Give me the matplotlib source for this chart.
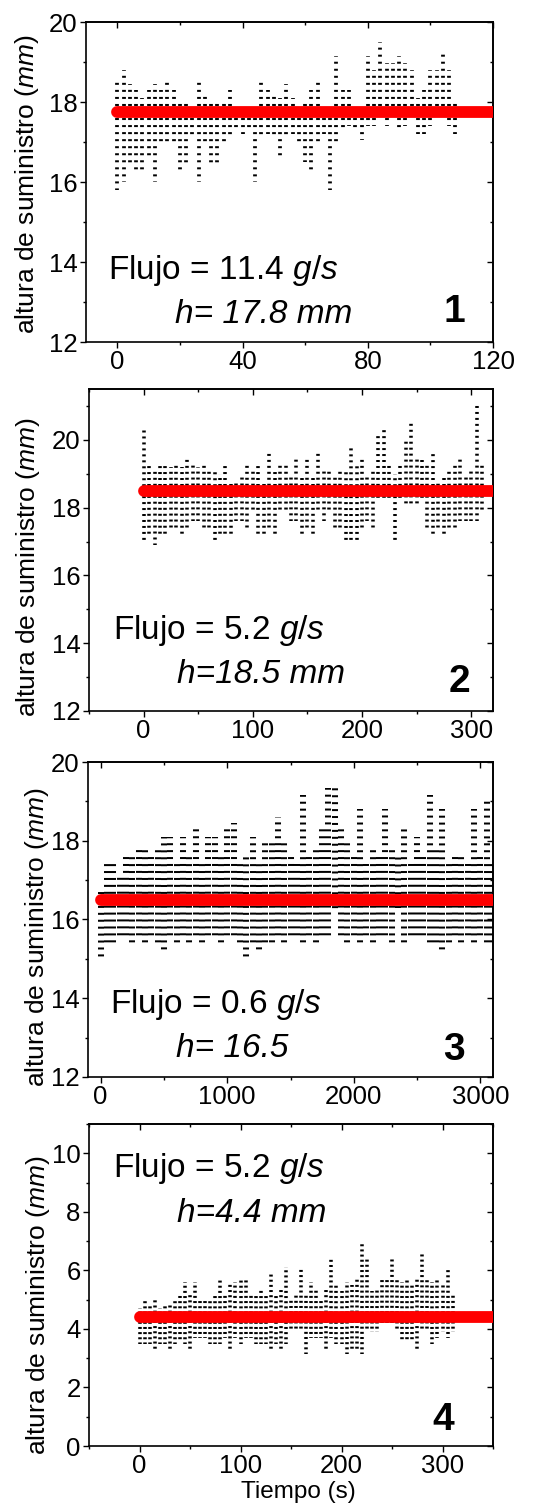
import matplotlib
matplotlib.use("Agg")
import matplotlib.pyplot as plt
from matplotlib.ticker import MultipleLocator

plt.rcParams['font.family'] = ['Liberation Sans', 'DejaVu Sans']
plt.rcParams['mathtext.fontset'] = 'custom'
plt.rcParams['mathtext.rm'] = 'Liberation Sans'
plt.rcParams['mathtext.it'] = 'Liberation Sans:italic'
plt.rcParams['lines.scale_dashes'] = False

# ==============================
# Data: per time column, lowest and highest level
# ==============================
# Panel 1: flujo 11.4 g/s
t1 = [0, 2, 4, 6, 8, 10, 12, 14, 16, 18, 20, 22, 24, 26, 28, 30, 32, 34, 36, 38,
      40, 42, 44, 46, 48, 50, 52, 54, 56, 58, 60, 62, 64, 66, 68, 70, 72, 74, 76, 78,
      80, 82, 84, 86, 88, 90, 92, 94, 96, 98, 100, 102, 104, 106, 108]
lo1 = [15.8, 16.0, 16.4, 16.2, 16.2, 16.6, 16.0, 16.9, 17.0, 16.9, 16.2, 16.4, 17.1, 16.0, 16.9,
       16.4, 16.4, 16.9, 17.1, 17.3, 17.2, 17.3, 16.0, 17.1, 17.2, 17.1, 16.6, 17.1, 17.2, 16.9,
       16.5, 16.2, 16.9, 17.2, 15.8, 17.0, 17.3, 17.4, 17.3, 17.05, 17.4, 17.4, 17.6, 17.4, 17.6,
       17.3, 17.4, 17.6, 17.2, 17.2, 17.4, 17.6, 17.6, 17.4, 17.2]
hi1 = [18.6, 18.8, 18.45, 18.3, 18.1, 18.3, 18.45, 18.3, 18.6, 18.3, 18.0, 18.0, 17.9, 18.6, 18.2,
       18.0, 18.0, 18.0, 18.3, 17.9, 17.9, 17.9, 17.9, 18.6, 18.3, 18.2, 18.1, 18.45, 18.1, 17.9,
       18.0, 18.3, 18.6, 17.9, 17.9, 19.15, 18.3, 18.3, 17.9, 17.9, 19.15, 18.8, 19.5, 18.98, 18.98,
       19.15, 18.98, 18.8, 18.1, 18.3, 18.8, 18.8, 19.3, 18.8, 18.0]

# Panel 2: flujo 5.2 g/s
t2 = [0, 5, 10, 15, 20, 25, 30, 35, 40, 45, 50, 55, 60, 65, 70, 75, 80, 85, 90, 95,
      100, 105, 110, 115, 120, 125, 130, 135, 140, 145, 150, 155, 160, 165, 170, 175, 180, 185, 190, 195,
      200, 205, 210, 215, 220, 225, 230, 235, 240, 245, 250, 255, 260, 265, 270, 275, 280, 285, 290, 295,
      300, 305, 310]
lo2 = [17.0, 17.2, 16.9, 17.2, 17.2, 17.4, 17.4, 17.2, 17.4, 17.6, 17.6, 17.4, 17.4, 17.0, 17.2,
       17.2, 17.2, 17.6, 17.6, 17.4, 17.9, 17.2, 17.2, 17.4, 17.2, 17.9, 17.9, 17.6, 17.6, 17.2,
       17.4, 17.2, 17.9, 17.6, 17.9, 17.4, 17.4, 17.0, 17.0, 17.0, 17.4, 17.6, 17.4, 18.2, 18.2,
       18.2, 17.0, 18.2, 18.1, 18.1, 18.1, 18.2, 17.4, 17.2, 17.4, 17.2, 17.4, 17.4, 17.6, 17.6,
       17.6, 17.6, 17.9]
hi2 = [20.35, 19.3, 19.1, 19.3, 19.3, 19.2, 19.3, 19.2, 19.5, 19.3, 19.2, 19.3, 19.1, 19.1, 19.0,
       19.3, 18.8, 18.8, 18.9, 19.3, 19.1, 19.3, 18.8, 19.65, 19.1, 19.3, 19.3, 18.9, 19.5, 18.9,
       19.5, 18.9, 19.65, 19.1, 19.1, 18.9, 19.1, 19.1, 19.85, 19.3, 19.5, 19.0, 19.1, 20.2, 20.35,
       19.3, 19.0, 19.3, 20.0, 20.55, 19.5, 19.5, 19.3, 19.65, 18.8, 18.9, 19.1, 19.3, 19.5, 18.9,
       19.1, 21.05, 19.3]

# Panel 3: flujo 0.6 g/s
t3 = [0, 50, 100, 150, 200, 250, 300, 350, 400, 450, 500, 550, 600, 650, 700, 750, 800, 850, 900, 950,
      1000, 1050, 1100, 1150, 1200, 1250, 1300, 1350, 1400, 1450, 1500, 1550, 1600, 1650, 1700, 1750,
      1800, 1850, 1900, 1950, 2000, 2050, 2100, 2150, 2200, 2250, 2300, 2350, 2400, 2450, 2500, 2550,
      2600, 2650, 2700, 2750, 2800, 2850, 2900, 2950, 3000, 3050, 3100]
lo3 = [14.95, 15.3, 15.3, 15.5, 15.5, 15.3, 15.5, 15.3, 15.5, 15.3, 15.15, 15.5, 15.3, 15.5, 15.3,
       15.5, 15.3, 15.5, 15.5, 15.3, 15.5, 15.5, 15.3, 14.95, 15.3, 15.15, 15.3, 15.3, 15.5, 15.3,
       15.5, 15.5, 15.3, 15.5, 15.3, 15.5, 15.5, 16.2, 15.5, 15.3, 15.5, 15.3, 15.5, 15.3, 15.5,
       15.5, 15.3, 16.3, 15.3, 15.5, 15.5, 15.5, 15.3, 15.3, 15.15, 15.3, 15.5, 15.3, 15.5, 15.3,
       15.5, 15.3, 15.3]
hi3 = [16.8, 17.4, 17.4, 17.1, 17.6, 17.6, 17.8, 17.8, 17.6, 17.8, 18.1, 18.1, 17.4, 18.1, 17.6,
       18.3, 17.4, 18.1, 18.1, 17.6, 18.3, 18.45, 17.4, 17.6, 18.1, 17.4, 18.0, 18.0, 18.6, 18.0,
       17.6, 17.4, 19.15, 17.6, 17.8, 18.3, 19.35, 19.35, 18.3, 18.0, 17.6, 18.8, 17.4, 17.8, 17.6,
       18.8, 17.8, 17.6, 18.3, 17.4, 18.1, 17.6, 19.15, 17.8, 18.8, 17.4, 17.6, 17.6, 17.4, 18.8,
       17.6, 19.0, 17.4]

# Panel 4: flujo 5.2 g/s, nivel bajo
t4 = [0, 5, 10, 15, 20, 25, 30, 35, 40, 45, 50, 55, 60, 65, 70, 75, 80, 85, 90, 95,
      100, 105, 110, 115, 120, 125, 130, 135, 140, 145, 150, 155, 160, 165, 170, 175, 180, 185, 190, 195,
      200, 205, 210, 215, 220, 225, 230, 235, 240, 245, 250, 255, 260, 265, 270, 275, 280, 285, 290, 295,
      300, 305, 310]
lo4 = [3.5, 3.5, 3.5, 3.3, 3.5, 3.5, 3.3, 3.5, 3.6, 3.5, 3.3, 3.7, 3.7, 3.7, 3.5,
       3.5, 3.5, 3.7, 3.3, 3.7, 3.5, 3.7, 3.7, 3.5, 3.5, 3.5, 3.3, 3.5, 3.3, 3.5,
       4.0, 4.0, 4.0, 3.15, 3.7, 3.7, 3.7, 3.3, 3.7, 3.5, 3.5, 3.15, 3.3, 3.3, 3.15,
       4.0, 3.9, 3.9, 4.2, 4.2, 4.2, 4.0, 3.6, 3.6, 3.6, 3.3, 4.0, 4.0, 3.5, 3.7,
       3.9, 3.7, 3.9]
hi4 = [4.7, 5.0, 4.85, 5.0, 4.7, 4.85, 4.85, 5.0, 5.2, 5.6, 5.2, 5.6, 5.0, 5.05, 5.0,
       5.2, 5.75, 5.2, 5.6, 5.6, 5.75, 5.75, 5.2, 5.2, 5.4, 5.2, 5.95, 5.2, 5.4, 6.1,
       5.0, 5.2, 6.1, 5.2, 5.6, 5.4, 5.0, 5.4, 6.45, 5.5, 5.3, 5.6, 5.5, 5.75, 6.9,
       6.45, 5.3, 5.4, 5.75, 5.75, 6.45, 5.75, 5.6, 5.75, 5.5, 5.75, 6.6, 5.75, 5.6, 5.75,
       5.5, 6.1, 5.2]

# mean level (red line) and its time span
h_mean = [17.75, 18.5, 16.5, 4.4]
red_t = [[0, 120], [0, 320], [0, 3100], [0, 350]]

flujo_txt = ["Flujo = 11.4 $g/s$", "Flujo = 5.2 $g/s$", "Flujo = 0.6 $g/s$", "Flujo = 5.2 $g/s$"]
h_txt = ["h= 17.8 mm", "h=18.5 mm", "h= 16.5", "h=4.4 mm"]
num_txt = ["1", "2", "3", "4"]

LEVEL_STEP = 0.176  # height quantisation of the sensor (mm)

# ==============================
# Layout (pixels)
# ==============================
W, H = 556, 1508
fig = plt.figure(figsize=(W / 100, H / 100), dpi=100)

boxes = [(86, 22, 493, 342), (89, 389, 493, 711), (88, 762, 493, 1077), (89, 1124, 493, 1446)]
xlims = [(-10, 120), (-50, 320), (-100, 3100), (-50, 350)]
ylims = [(12, 20), (12, 21.5), (12, 20), (0, 11)]
xsteps = [(40, 20), (100, 50), (1000, 500), (100, 50)]
ysteps = [(2, 1), (2, 1), (2, 1), (2, 1)]
fill = [0.6, 0.65, 0.95, 0.7]   # how much of each column slot the dots cover
flujo_pos = [(0.054, 0.197), (0.059, 0.224), (0.054, 0.203), (0.059, 0.835)]
h_pos = [(0.219, 0.059), (0.218, 0.087), (0.217, 0.063), (0.218, 0.696)]
num_pos = [(0.931, 0.0625), (0.943, 0.059), (0.931, 0.054), (0.903, 0.05)]
ylab_pos = [(27, 184), (28, 567), (37, 937), (38, 1305)]

data = [(t1, lo1, hi1), (t2, lo2, hi2), (t3, lo3, hi3), (t4, lo4, hi4)]

for i in range(4):
    l, tp, r, b = boxes[i]
    ax = fig.add_axes([l / W, 1 - b / H, (r - l) / W, (b - tp) / H])
    ax.set_xlim(xlims[i])
    ax.set_ylim(ylims[i])
    t, lo, hi = data[i]

    # dotted columns: dots sit on the quantised levels
    ppx = (r - l) / (xlims[i][1] - xlims[i][0])
    ppy = (b - tp) / (ylims[i][1] - ylims[i][0])
    k = ppy * 0.72                     # points per mm
    period = LEVEL_STEP * k
    on = 2.0 * 0.72
    styles = [((on / 2 + ((v - h_mean[i]) % LEVEL_STEP) * k) % period, (on, period - on)) for v in lo]
    lw = (t[1] - t[0]) * ppx * fill[i] * 0.72
    ax.vlines(t, lo, hi, colors='black', linewidths=lw, linestyles=styles, zorder=2)

    # mean level
    ax.plot(red_t[i], [h_mean[i], h_mean[i]], color='#ff0000', lw=8.5,
            solid_capstyle='round', zorder=3)

    # ticks: out on left/bottom, mirrored in on top/right
    ax.xaxis.set_major_locator(MultipleLocator(xsteps[i][0]))
    ax.xaxis.set_minor_locator(MultipleLocator(xsteps[i][1]))
    ax.yaxis.set_major_locator(MultipleLocator(ysteps[i][0]))
    ax.yaxis.set_minor_locator(MultipleLocator(ysteps[i][1]))
    ax.tick_params(which='major', direction='out', length=4.5, width=1.0, labelsize=18.5, pad=1.5)
    ax.tick_params(which='minor', direction='out', length=2.5, width=1.0)
    for s in ax.spines.values():
        s.set_linewidth(1.2)

    sx = ax.secondary_xaxis('top')
    sx.xaxis.set_major_locator(MultipleLocator(xsteps[i][0]))
    sx.xaxis.set_minor_locator(MultipleLocator(xsteps[i][1]))
    sx.tick_params(which='major', direction='in', length=4.5, width=1.0, labeltop=False)
    sx.tick_params(which='minor', direction='in', length=2.5, width=1.0)
    sx.spines['top'].set_linewidth(1.2)
    sy = ax.secondary_yaxis('right')
    sy.yaxis.set_major_locator(MultipleLocator(ysteps[i][0]))
    sy.yaxis.set_minor_locator(MultipleLocator(ysteps[i][1]))
    sy.tick_params(which='major', direction='in', length=4.5, width=1.0, labelright=False)
    sy.tick_params(which='minor', direction='in', length=2.5, width=1.0)
    sy.spines['right'].set_linewidth(1.2)

    # annotations
    ax.text(flujo_pos[i][0], flujo_pos[i][1], flujo_txt[i], transform=ax.transAxes,
            fontsize=24, va='baseline', ha='left')
    ax.text(h_pos[i][0], h_pos[i][1], h_txt[i], transform=ax.transAxes,
            fontsize=24, style='italic', va='baseline', ha='left')
    ax.text(num_pos[i][0], num_pos[i][1], num_txt[i], transform=ax.transAxes,
            fontsize=28, fontweight='bold', va='baseline', ha='right')

    fig.text(ylab_pos[i][0] / W, 1 - ylab_pos[i][1] / H, "altura de suministro ($mm$)",
             rotation=90, fontsize=19, ha='center', va='center')

fig.text(298 / W, 1 - 1492 / H, "Tiempo (s)", fontsize=17.5, ha='center', va='center')

fig.savefig("out.png", dpi=100, facecolor='white')
